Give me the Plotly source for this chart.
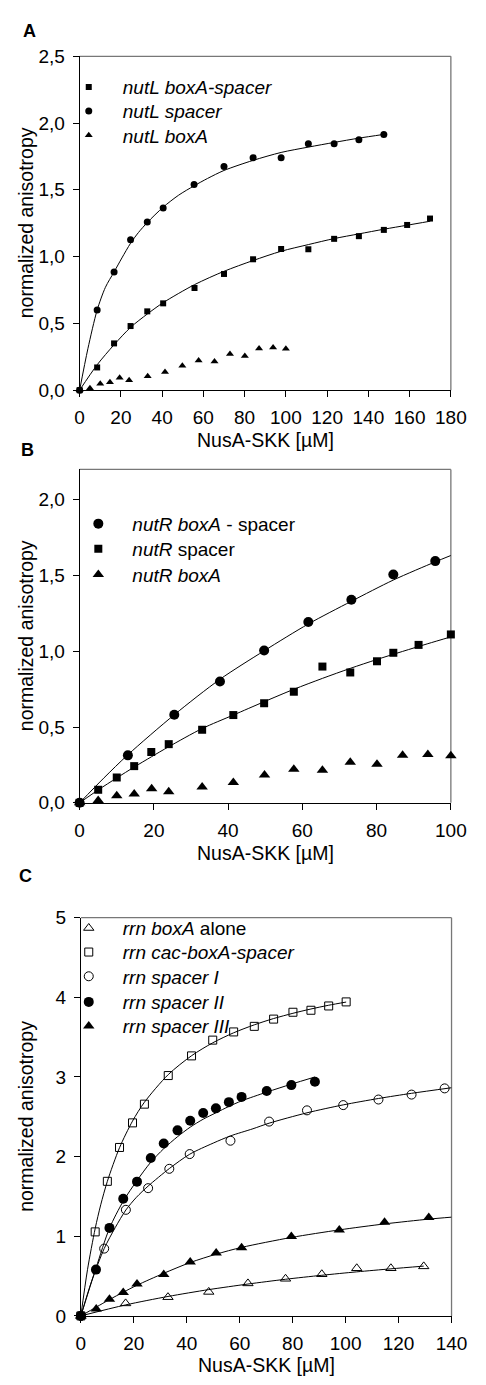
import plotly.graph_objects as go

W, H = 486, 1385
FONT = "Liberation Sans, Arial, sans-serif"

# ---------------- Panel A data ----------------
a_sq_x = [0, 8.5, 16.7, 24.7, 32.8, 40.5, 55.7, 70, 84.1, 97.7, 110.9, 123.4, 135.4, 147.5, 158.8, 169.9]
a_sq_y = [0, 0.17, 0.35, 0.48, 0.59, 0.65, 0.765, 0.87, 0.98, 1.057, 1.055, 1.133, 1.153, 1.2, 1.237, 1.285]
a_ci_x = [0, 8.5, 16.7, 24.7, 32.8, 40.5, 55.5, 70, 84.1, 97.7, 110.9, 123.4, 135.4, 147.5]
a_ci_y = [0, 0.60, 0.885, 1.126, 1.26, 1.364, 1.54, 1.675, 1.74, 1.74, 1.846, 1.846, 1.875, 1.915]
a_tr_x = [0, 5, 10, 14.7, 19.4, 24, 33, 41.4, 49.8, 57.7, 65.4, 72.9, 80.1, 87, 93.8, 100]
a_tr_y = [0, 0.015, 0.047, 0.059, 0.092, 0.075, 0.104, 0.135, 0.183, 0.222, 0.215, 0.27, 0.256, 0.312, 0.319, 0.31]
# fitted curves
a_sq_fit_x = [0, 8.5, 16.7, 24.7, 32.8, 40.5, 55.7, 70, 84, 97.7, 110.9, 123.4, 135.4, 147.5, 158.8, 170]
a_sq_fit_y = [0, 0.19, 0.34, 0.47, 0.57, 0.655, 0.79, 0.89, 0.97, 1.04, 1.09, 1.135, 1.17, 1.205, 1.235, 1.265]
a_ci_fit_x = [0, 4, 8.5, 12.5, 16.7, 20.5, 24.7, 28.5, 32.8, 40.5, 48, 55.5, 62, 70, 84, 97.7, 110.9, 123.4, 135.4, 147.5]
a_ci_fit_y = [0, 0.31, 0.60, 0.77, 0.885, 0.99, 1.10, 1.18, 1.255, 1.37, 1.46, 1.53, 1.585, 1.645, 1.72, 1.78, 1.82, 1.855, 1.887, 1.915]

# ---------------- Panel B data ----------------
b_ci_x = [0, 13, 25.5, 37.8, 49.7, 61.6, 73.2, 84.5, 95.8]
b_ci_y = [0, 0.313, 0.581, 0.80, 1.005, 1.193, 1.34, 1.507, 1.595]
b_sq_x = [0, 5, 10, 14.7, 19.3, 24, 33, 41.4, 49.7, 57.7, 65.4, 72.9, 80.1, 84.5, 91.3, 100]
b_sq_y = [0, 0.086, 0.167, 0.242, 0.335, 0.387, 0.482, 0.579, 0.657, 0.733, 0.899, 0.86, 0.934, 0.99, 1.042, 1.111]
b_tr_x = [0, 5, 10, 14.7, 19.4, 24, 33, 41.4, 49.8, 57.7, 65.4, 72.9, 80.1, 87, 93.8, 100]
b_tr_y = [0, 0.015, 0.047, 0.058, 0.093, 0.073, 0.104, 0.134, 0.184, 0.222, 0.214, 0.268, 0.255, 0.313, 0.318, 0.311]
b_ci_fit_x = [0, 6.5, 13, 25.5, 37.8, 49.7, 61.6, 73.2, 84.5, 95.8, 100]
b_ci_fit_y = [0, 0.163, 0.317, 0.581, 0.815, 1.003, 1.18, 1.33, 1.47, 1.59, 1.632]
b_sq_fit_x = [0, 5, 10, 14.7, 19.3, 24, 33, 41.4, 49.7, 57.7, 65.4, 72.9, 80.1, 87, 93.8, 100]
b_sq_fit_y = [0, 0.085, 0.164, 0.236, 0.303, 0.37, 0.49, 0.579, 0.667, 0.749, 0.821, 0.887, 0.946, 0.999, 1.05, 1.095]

# ---------------- Panel C data ----------------
c_boxa_x = [0, 16.9, 32.9, 48.3, 63.1, 77.3, 91, 104.2, 117.1, 129.5]
c_boxa_y = [0, 0.157, 0.235, 0.301, 0.408, 0.466, 0.523, 0.598, 0.598, 0.622]
c_cac_x = [0, 5.4, 10, 14.6, 19.5, 24, 33, 41.8, 49.8, 57.7, 65.5, 72.8, 80.1, 86.9, 93.6, 100.2]
c_cac_y = [0, 1.055, 1.69, 2.115, 2.424, 2.659, 3.018, 3.265, 3.463, 3.566, 3.636, 3.727, 3.813, 3.838, 3.892, 3.943]
c_sp1_x = [0, 8.8, 17, 25.4, 33.4, 41.1, 56.5, 71.1, 85.4, 99.1, 112.4, 124.9, 137.4]
c_sp1_y = [0, 0.845, 1.332, 1.604, 1.847, 2.032, 2.2, 2.44, 2.581, 2.647, 2.717, 2.779, 2.857]
c_sp2_x = [0, 5.7, 10.8, 16, 21.2, 26.4, 31.3, 36.5, 41.3, 46.2, 51, 55.9, 60.7, 70.2, 79.5, 88.4]
c_sp2_y = [0, 0.581, 1.105, 1.472, 1.686, 1.982, 2.164, 2.33, 2.45, 2.548, 2.606, 2.684, 2.75, 2.824, 2.898, 2.94]
c_sp3_x = [0, 5.8, 10.8, 16, 21.2, 31.3, 41.3, 51.1, 60.7, 79.5, 97.6, 114.7, 131.4]
c_sp3_y = [0, 0.087, 0.21, 0.293, 0.4, 0.519, 0.676, 0.791, 0.857, 0.998, 1.08, 1.175, 1.237]
# fitted curves
c_boxa_fit_x = [0, 16.9, 32.9, 48.3, 63.1, 77.3, 91, 104.2, 117.1, 129.5]
c_boxa_fit_y = [0, 0.138, 0.244, 0.33, 0.40, 0.46, 0.51, 0.553, 0.591, 0.625]
c_cac_fit_x = [0, 2.5, 5.4, 7.5, 10, 14.6, 19.5, 24, 33, 41.8, 49.8, 57.7, 65.5, 72.8, 80.1, 86.9, 93.6, 100.2]
c_cac_fit_y = [0, 0.58, 1.097, 1.395, 1.69, 2.112, 2.446, 2.683, 3.03, 3.267, 3.429, 3.555, 3.655, 3.734, 3.80, 3.854, 3.901, 3.941]
c_sp1_fit_x = [0, 4, 8.8, 13, 17, 21, 25.4, 33.4, 41.1, 50, 56.5, 65, 71.1, 85.4, 99.1, 112.4, 124.9, 140]
c_sp1_fit_y = [0, 0.43, 0.845, 1.11, 1.33, 1.49, 1.63, 1.85, 2.03, 2.17, 2.26, 2.35, 2.42, 2.55, 2.65, 2.73, 2.795, 2.865]
c_sp2_fit_x = [0, 5.7, 10.8, 16, 21.2, 26.4, 31.3, 36.5, 41.3, 46.2, 51, 55.9, 60.7, 70.2, 79.5, 88.4]
c_sp2_fit_y = [0, 0.6, 1.1, 1.44, 1.70, 1.93, 2.1, 2.25, 2.37, 2.47, 2.55, 2.63, 2.7, 2.81, 2.91, 3.0]
c_sp3_fit_x = [0, 5.8, 10.8, 16, 21.2, 31.3, 41.3, 51.1, 60.7, 79.5, 97.6, 114.7, 131.4, 140]
c_sp3_fit_y = [0, 0.11, 0.205, 0.297, 0.385, 0.535, 0.67, 0.775, 0.86, 0.985, 1.08, 1.155, 1.215, 1.24]

# tick values
a_xticks = [0, 20, 40, 60, 80, 100, 120, 140, 160, 180]
a_yticks = [0, 0.5, 1.0, 1.5, 2.0, 2.5]
b_xticks = [0, 20, 40, 60, 80, 100]
b_yticks = [0, 0.5, 1.0, 1.5, 2.0]
c_xticks = [0, 20, 40, 60, 80, 100, 120, 140]
c_yticks = [0, 1, 2, 3, 4, 5]

W_PX = lambda p: p / W
H_PX = lambda p: 1 - p / H

fig = go.Figure()
legend_layout = {}
ITEMW = 58
leg_counter = [0]


def pts(x, y, name, symbol, size, xa, ya, leg_px, lw=1):
    leg_counter[0] += 1
    key = "legend" if leg_counter[0] == 1 else "legend%d" % leg_counter[0]
    fig.add_trace(go.Scatter(
        x=x, y=y, mode="markers", name=name, xaxis=xa, yaxis=ya, legend=key,
        cliponaxis=False,
        marker=dict(symbol=symbol, size=size, color="black",
                    line=dict(color="black", width=lw))))
    sx, sy = leg_px
    legend_layout[key] = dict(x=W_PX(sx - ITEMW / 2 - 5), y=H_PX(sy), xanchor="left", yanchor="middle",
                              bgcolor="rgba(0,0,0,0)", borderwidth=0, itemwidth=ITEMW,
                              font=dict(size=19, family=FONT, color="black"),
                              tracegroupgap=0, itemclick=False, itemdoubleclick=False)


def curve(x, y, xa, ya):
    fig.add_trace(go.Scatter(
        x=x, y=y, mode="lines", showlegend=False, xaxis=xa, yaxis=ya,
        hoverinfo="skip", cliponaxis=False,
        line=dict(color="black", width=1, shape="spline", smoothing=0.8)))


# Panel A
curve(a_sq_fit_x, a_sq_fit_y, "x", "y")
curve(a_ci_fit_x, a_ci_fit_y, "x", "y")
pts(a_sq_x, a_sq_y, "<i>nutL boxA-spacer</i>", "square", 6, "x", "y", (86, 78.3), 0)
pts(a_ci_x, a_ci_y, "<i>nutL spacer</i>", "circle", 7, "x", "y", (86, 102.7), 0)
pts(a_tr_x, a_tr_y, "<i>nutL boxA</i>", "triangle-up", 7, "x", "y", (86, 127.3), 0)

# Panel B
curve(b_ci_fit_x, b_ci_fit_y, "x2", "y2")
curve(b_sq_fit_x, b_sq_fit_y, "x2", "y2")
pts(b_ci_x, b_ci_y, "<i>nutR boxA</i> - spacer", "circle", 10, "x2", "y2", (96, 521.7), 0)
pts(b_sq_x, b_sq_y, "<i>nutR</i> spacer", "square", 8, "x2", "y2", (96, 547.3), 0)
pts(b_tr_x, b_tr_y, "<i>nutR boxA</i>", "triangle-up", 10, "x2", "y2", (96, 573.3), 0)

# Panel C
curve(c_boxa_fit_x, c_boxa_fit_y, "x3", "y3")
curve(c_cac_fit_x, c_cac_fit_y, "x3", "y3")
curve(c_sp1_fit_x, c_sp1_fit_y, "x3", "y3")
curve(c_sp2_fit_x, c_sp2_fit_y, "x3", "y3")
curve(c_sp3_fit_x, c_sp3_fit_y, "x3", "y3")
pts(c_boxa_x, c_boxa_y, "<i>rrn boxA</i> alone", "triangle-up-open", 9, "x3", "y3", (86, 932.3), 1)
pts(c_cac_x, c_cac_y, "<i>rrn cac-boxA-spacer</i>", "square-open", 8, "x3", "y3", (86, 956.7), 1)
pts(c_sp1_x, c_sp1_y, "<i>rrn spacer I</i>", "circle-open", 9, "x3", "y3", (86, 981.3), 1)
pts(c_sp2_x, c_sp2_y, "<i>rrn spacer II</i>", "circle", 10, "x3", "y3", (86, 1007.3), 0)
pts(c_sp3_x, c_sp3_y, "<i>rrn spacer III</i>", "triangle-up", 10, "x3", "y3", (86, 1031.7), 0)

axis_common = dict(showline=True, linecolor="black", linewidth=1, ticks="outside",
                   ticklen=6, tickcolor="black", tickwidth=1, showgrid=False,
                   zeroline=False, tickfont=dict(size=19, color="black", family=FONT),
                   ticklabelstandoff=4)

domA_x = [W_PX(78), W_PX(466)]
domA_y = [H_PX(386), H_PX(47)]
domB_x = [W_PX(78), W_PX(466)]
domB_y = [H_PX(805), H_PX(466.5)]
domC_x = [W_PX(79.3), W_PX(466.7)]
domC_y = [H_PX(1326), H_PX(921.7)]

fig.update_layout(
    width=W, height=H, margin=dict(l=0, r=0, t=0, b=0),
    paper_bgcolor="white", plot_bgcolor="white",
    separators=",.",
    font=dict(family=FONT, color="black", size=18),
    xaxis=dict(domain=domA_x, range=[0, 180], tickvals=a_xticks, anchor="y", **axis_common),
    yaxis=dict(domain=domA_y, range=[0, 2.5], tickvals=a_yticks, tickformat=".1f", anchor="x", **axis_common),
    xaxis2=dict(domain=domB_x, range=[0, 100], tickvals=b_xticks, anchor="y2", **axis_common),
    yaxis2=dict(domain=domB_y, range=[0, 2.2], tickvals=b_yticks, tickformat=".1f", anchor="x2", **axis_common),
    xaxis3=dict(domain=domC_x, range=[0, 140], tickvals=c_xticks, anchor="y3", **axis_common),
    yaxis3=dict(domain=domC_y, range=[0, 5], tickvals=c_yticks, anchor="x3", **axis_common),
    showlegend=True,
    **legend_layout,
)

# gray top/right frame lines
for xr, yr in (("x domain", "y domain"), ("x2 domain", "y2 domain"), ("x3 domain", "y3 domain")):
    fig.add_shape(type="line", xref=xr, yref=yr, x0=0, x1=1, y0=1, y1=1,
                  line=dict(color="#777777", width=1.3), layer="below")
    fig.add_shape(type="line", xref=xr, yref=yr, x0=1, x1=1, y0=0, y1=1,
                  line=dict(color="#777777", width=1.3), layer="below")

# panel letters
for letter, xp, yp in (("A", 17, 21), ("B", 15, 447), ("C", 13, 879)):
    fig.add_annotation(text="<b>%s</b>" % letter, x=W_PX(xp), y=H_PX(yp), xref="paper", yref="paper",
                       xanchor="left", yanchor="middle", showarrow=False,
                       font=dict(size=18, family=FONT, color="black"))

# axis titles
for yc in ((386 + 47) / 2, (805 + 466.5) / 2, (1326 + 921.7) / 2):
    fig.add_annotation(text="normalized anisotropy", x=W_PX(22), y=H_PX(yc), xref="paper", yref="paper",
                       xanchor="center", yanchor="middle", textangle=-90, showarrow=False,
                       font=dict(size=19.5, family=FONT, color="black"))
for xc, yc in ((272, 437), (272, 856), (273, 1376)):
    fig.add_annotation(text="NusA-SKK [µM]", x=W_PX(xc), y=H_PX(yc), xref="paper", yref="paper",
                       xanchor="center", yanchor="middle", showarrow=False,
                       font=dict(size=19.5, family=FONT, color="black"))

fig.write_html("out.html", config={"displayModeBar": False},
               post_script="document.body.style.margin='0';document.body.style.overflow='hidden';")
